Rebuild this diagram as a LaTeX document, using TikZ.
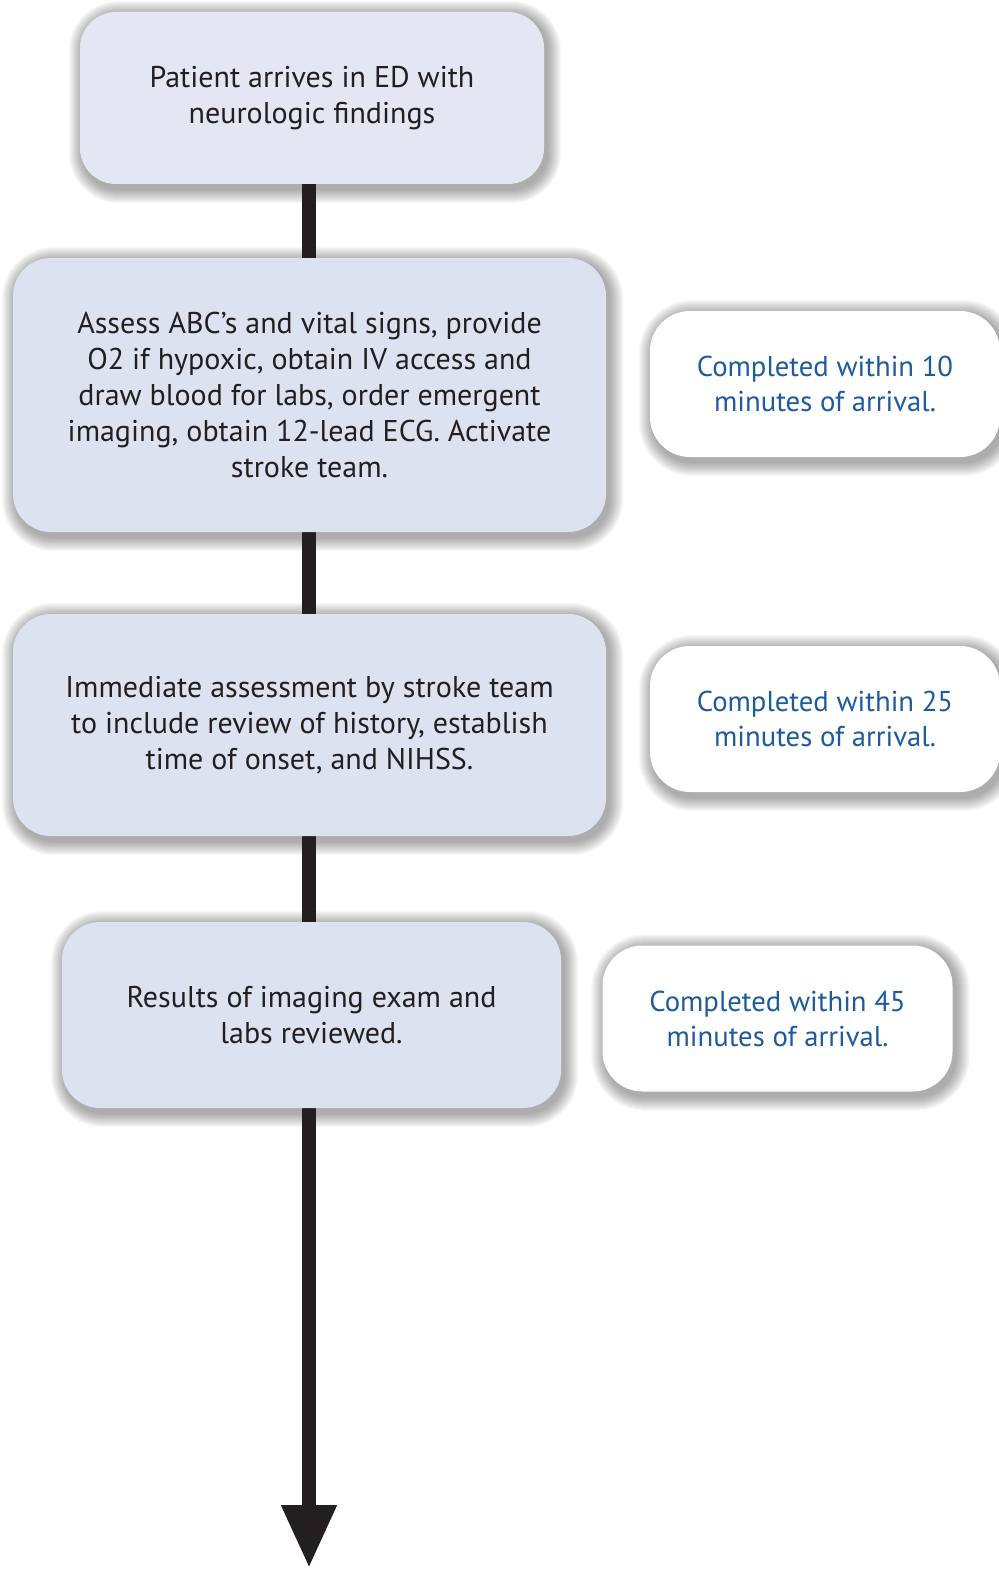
\documentclass[tikz,border=0pt]{standalone}
\usepackage{fontspec}
\setmainfont{PT Sans}
\usetikzlibrary{arrows.meta,calc}
\definecolor{boxA}{HTML}{E4E6F3}
\definecolor{boxB}{HTML}{DDE2F1}
\definecolor{ink}{HTML}{231F20}
\definecolor{blueink}{HTML}{1D5A9E}
\pgfdeclarelayer{bg}
\pgfsetlayers{bg,main}
\tikzset{
  stepbox/.style={rounded corners=38pt, fill=boxB, text=ink, align=center, inner sep=0pt,
    font=\fontsize{30}{36}\selectfont},
  notebox/.style={rounded corners=40pt, fill=white, text=blueink, align=center, inner sep=0pt,
    minimum width=350pt, minimum height=146pt, font=\fontsize{28.7}{35}\selectfont},
  flow/.style={draw=ink, line width=14pt},
}
\newcommand\softshadow[2]{%
  \foreach \i in {0,...,13}{%
    \pgfmathsetmacro\e{14-\i}%
    \pgfmathsetlengthmacro\rr{#2+\e*1pt}%
    \fill[black, opacity=0.026, rounded corners=\rr]
      ($(#1.north west)+(3-\e, 3-\e)$) rectangle ($(#1.south east)+(3+\e, 5+\e)$);
  }%
}
\begin{document}
\begin{tikzpicture}[x=1pt, y=-1pt]
\useasboundingbox (0,0) rectangle (998,1570);
\coordinate (tip) at (309,1568);
\path
  node[stepbox, fill=boxA, minimum width=464pt, minimum height=172pt, rounded corners=36pt] (b1) at (312,98)
    {Patient arrives in ED with\\neurologic findings}
  node[stepbox, minimum width=593pt, minimum height=274pt] (b2) at (309.5,395)
    {Assess ABC’s and vital signs, provide\\O2 if hypoxic, obtain IV access and\\draw blood for labs, order emergent\\imaging, obtain 12-lead ECG. Activate\\stroke team.}
  node[stepbox, minimum width=593pt, minimum height=222pt] (b3) at (309.5,725)
    {Immediate assessment by stroke team\\to include review of history, establish\\time of onset, and NIHSS.}
  node[stepbox, minimum width=499pt, minimum height=186pt] (b4) at (311.5,1015)
    {Results of imaging exam and\\labs reviewed.}
  node[notebox] (r1) at (825,384) {Completed within 10\\minutes of arrival.}
  node[notebox] (r2) at (825,719) {Completed within 25\\minutes of arrival.}
  node[notebox] (r3) at (777.5,1018.5) {Completed within 45\\minutes of arrival.};
\begin{pgfonlayer}{bg}
  \softshadow{b1}{36pt}
  \softshadow{b2}{38pt}
  \softshadow{b3}{38pt}
  \softshadow{b4}{38pt}
  \softshadow{r1}{40pt}
  \softshadow{r2}{40pt}
  \softshadow{r3}{40pt}
  \draw[flow] (b1.south -| tip) -- (b2.north -| tip);
  \draw[flow] (b2.south -| tip) -- (b3.north -| tip);
  \draw[flow] (b3.south -| tip) -- (b4.north -| tip);
  \draw[flow, -{Triangle[length=63pt, width=52pt]}] (b4.south -| tip) -- (tip);
\end{pgfonlayer}
\end{tikzpicture}
\end{document}
